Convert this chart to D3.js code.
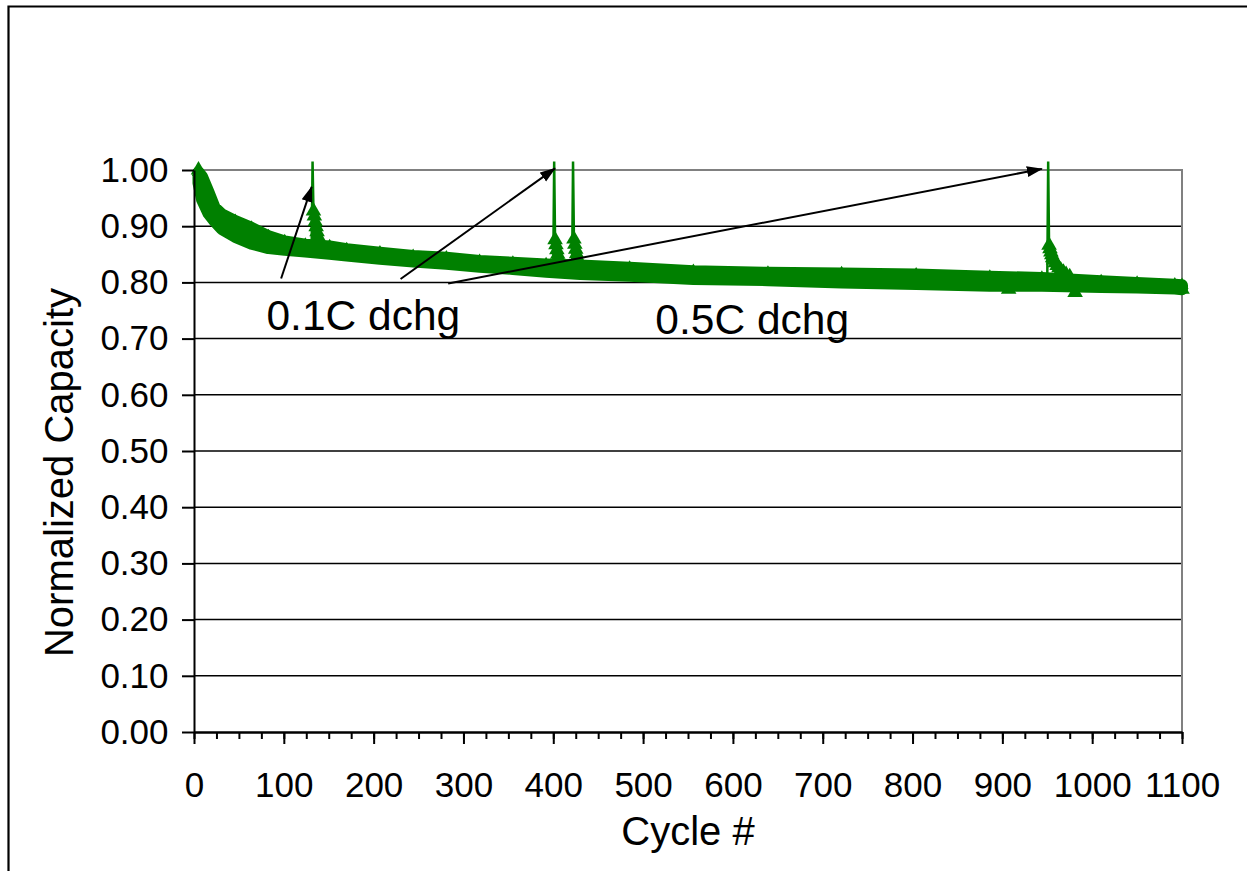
<!DOCTYPE html>
<html>
<head>
<meta charset="utf-8">
<script src="https://cdnjs.cloudflare.com/ajax/libs/d3/7.8.5/d3.min.js"></script>
<style>
  body { margin: 0; background: #ffffff; }
  svg { display: block; font-family: 'Liberation Sans', Arial, sans-serif; }
</style>
</head>
<body>
<svg id="canvas"></svg>
<script>
////////////////////////////////////////////////////////////////////////////////
// Data.
////////////////////////////////////////////////////////////////////////////////

// Cycles where the band of capacity points was read.
var bandCycles = [5, 9, 16, 23, 31, 46, 64, 83, 101, 124, 151, 170, 207, 244,
                  281, 318, 355, 392, 430, 485, 556, 639, 721, 804, 886, 944,
                  1010, 1050, 1092, 1100];

// Upper edge of the point cloud (normalized capacity).
var bandHigh = [0.996, 0.988, 0.961, 0.933, 0.921, 0.909, 0.897, 0.882, 0.873,
                0.867, 0.864, 0.859, 0.853, 0.847, 0.844, 0.838, 0.835, 0.832,
                0.830, 0.826, 0.820, 0.817, 0.816, 0.814, 0.810, 0.808, 0.802,
                0.799, 0.796, 0.795];

// Lower edge of the point cloud (normalized capacity).
var bandLow = [0.977, 0.947, 0.923, 0.909, 0.895, 0.881, 0.869, 0.861, 0.858,
               0.855, 0.851, 0.848, 0.842, 0.837, 0.833, 0.828, 0.824, 0.819,
               0.815, 0.812, 0.806, 0.804, 0.800, 0.797, 0.794, 0.794, 0.792,
               0.791, 0.789, 0.788];

// 0.1C discharge check-ups: spike cycle, spike peak and value just before it.
var spikeCycles = [132, 401, 422, 951];
var spikePeaks = [1.015, 1.015, 1.015, 1.015];
var spikeFeet = [0.866, 0.832, 0.831, 0.808];

// Recovered points right after each check-up.
var recoveryCycles = [
  [133, 134, 135, 136, 137, 138, 139, 141],
  [402, 403, 404, 405, 406, 408],
  [423, 424, 425, 426, 427, 429],
  [952, 953, 954, 955, 956, 957, 959, 961, 963, 965, 968, 971, 975]
];
var recoveryValues = [
  [0.927, 0.918, 0.908, 0.899, 0.890, 0.882, 0.876, 0.870],
  [0.876, 0.867, 0.858, 0.850, 0.843, 0.835],
  [0.877, 0.868, 0.859, 0.851, 0.844, 0.835],
  [0.866, 0.860, 0.854, 0.849, 0.844, 0.840, 0.835, 0.830, 0.826, 0.822, 0.818, 0.814, 0.810]
];

// Single points standing out of the band.
var outlierCycles = [5, 907, 981, 1100];
var outlierValues = [1.0, 0.788, 0.782, 0.788];

// Tick labels.
var xTickLabels = [0, 100, 200, 300, 400, 500, 600, 700, 800, 900, 1000, 1100];
var yTickLabels = [0.0, 0.1, 0.2, 0.3, 0.4, 0.5, 0.6, 0.7, 0.8, 0.9, 1.0];

// Annotation texts and arrows (in cycle / capacity units).
var noteTexts = ['0.1C dchg', '0.5C dchg'];
var noteCycles = [80.7, 513.6];
var noteValues = [0.715, 0.708];
var arrowStarts = [[97, 0.807], [230, 0.806], [283, 0.798]];
var arrowEnds = [[131, 0.970], [402, 1.003], [944, 1.002]];

////////////////////////////////////////////////////////////////////////////////
// Layout.
////////////////////////////////////////////////////////////////////////////////
var canvas = { width: 1247, height: 871 };

var plot = { left: 194, right: 1182, top: 170, bottom: 732 };

var colour = {
  series: '#008000',
  grid: '#000000',
  border: '#808080'
};

var svg = d3.select('#canvas')
            .attr('width', canvas.width)
            .attr('height', canvas.height);

// Outer frame (only left and top edges are visible).
svg.append('path')
   .attr('d', 'M8.5,' + canvas.height + 'V6.5H' + canvas.width)
   .attr('fill', 'none')
   .attr('stroke', '#000')
   .attr('stroke-width', 2.2);

// Scales.
var xScale = d3.scaleLinear().domain([0, 1100]).range([plot.left, plot.right]);
var yScale = d3.scaleLinear().domain([0, 1]).range([plot.bottom, plot.top]);

// Horizontal grid lines.
svg.append('g')
   .selectAll('line')
   .data(yTickLabels.filter(function(v) { return v > 0 && v < 1; }))
   .enter()
   .append('line')
   .attr('x1', plot.left)
   .attr('x2', plot.right)
   .attr('y1', function(d) { return yScale(d); })
   .attr('y2', function(d) { return yScale(d); })
   .attr('stroke', colour.grid)
   .attr('stroke-width', 1.5);

// Plot area border, top and right.
svg.append('path')
   .attr('d', 'M' + plot.left + ',' + plot.top + 'H' + plot.right + 'V' + plot.bottom)
   .attr('fill', 'none')
   .attr('stroke', colour.border)
   .attr('stroke-width', 2);

////////////////////////////////////////////////////////////////////////////////
// Series.
////////////////////////////////////////////////////////////////////////////////
var bandData = bandCycles.map(function(c, i) {
  return { c: c, hi: bandHigh[i], lo: bandLow[i] };
});

var band = d3.area()
             .x(function(d) { return xScale(d.c); })
             .y0(function(d) { return yScale(d.lo); })
             .y1(function(d) { return yScale(d.hi); });

svg.append('path')
   .datum(bandData)
   .attr('d', band)
   .attr('fill', colour.series)
   .attr('stroke', colour.series)
   .attr('stroke-width', 12)
   .attr('stroke-linejoin', 'round');

var smallTriangle = d3.symbol().type(d3.symbolTriangle).size(75);
var triangle = d3.symbol().type(d3.symbolTriangle).size(105);

// Markers along the upper edge give it the ragged look.
svg.append('g')
   .selectAll('path')
   .data(bandData)
   .enter()
   .append('path')
   .attr('d', smallTriangle)
   .attr('transform', function(d) { return 'translate(' + xScale(d.c) + ',' + yScale(d.hi) + ')'; })
   .attr('fill', colour.series);

var line = d3.line()
             .x(function(d) { return xScale(d[0]); })
             .y(function(d) { return yScale(d[1]); });

// Spikes and recovery points.
spikeCycles.forEach(function(c, i) {
  var pts = [[c - 1, spikeFeet[i]], [c, spikePeaks[i]]];
  recoveryCycles[i].forEach(function(rc, j) {
    pts.push([rc, recoveryValues[i][j]]);
  });

  svg.append('path')
     .datum(pts)
     .attr('d', line)
     .attr('fill', 'none')
     .attr('stroke', colour.series)
     .attr('stroke-width', 2.5);

  svg.append('g')
     .selectAll('path')
     .data(pts.slice(2))
     .enter()
     .append('path')
     .attr('d', triangle)
     .attr('transform', function(d) { return 'translate(' + xScale(d[0]) + ',' + yScale(d[1]) + ')'; })
     .attr('fill', colour.series);
});

// Stand-alone points.
svg.append('g')
   .selectAll('path')
   .data(outlierCycles)
   .enter()
   .append('path')
   .attr('d', triangle)
   .attr('transform', function(d, i) { return 'translate(' + xScale(d) + ',' + yScale(outlierValues[i]) + ')'; })
   .attr('fill', colour.series);

////////////////////////////////////////////////////////////////////////////////
// Axes.
////////////////////////////////////////////////////////////////////////////////
function styleAxis(g, size) {
  g.attr('font-family', null).attr('font-size', null);
  g.selectAll('path, line').attr('stroke', '#000').attr('stroke-width', 2);
  g.selectAll('text').style('font-size', size + 'px').attr('fill', '#000');
}

// Minor ticks every 25 cycles.
svg.append('g')
   .attr('transform', 'translate(0,' + plot.bottom + ')')
   .call(d3.axisBottom(xScale)
           .tickValues(d3.range(0, 1101, 25))
           .tickSize(7)
           .tickSizeOuter(0)
           .tickFormat(''))
   .call(styleAxis, 35);

// Major ticks with labels.
svg.append('g')
   .attr('transform', 'translate(0,' + plot.bottom + ')')
   .call(d3.axisBottom(xScale)
           .tickValues(xTickLabels)
           .tickSize(12)
           .tickSizeOuter(0)
           .tickPadding(28)
           .tickFormat(d3.format('d')))
   .call(styleAxis, 35);

svg.append('g')
   .attr('transform', 'translate(' + plot.left + ',0)')
   .call(d3.axisLeft(yScale)
           .tickValues(yTickLabels)
           .tickSize(12)
           .tickSizeOuter(0)
           .tickPadding(13.5)
           .tickFormat(d3.format('.2f')))
   .call(styleAxis, 35);

// Axis titles.
svg.append('text')
   .attr('x', (plot.left + plot.right) / 2)
   .attr('y', 845)
   .attr('text-anchor', 'middle')
   .style('font-size', '40px')
   .text('Cycle #');

svg.append('text')
   .attr('transform', 'translate(73,472.5) rotate(-90)')
   .attr('text-anchor', 'middle')
   .style('font-size', '40px')
   .text('Normalized Capacity');

////////////////////////////////////////////////////////////////////////////////
// Annotations.
////////////////////////////////////////////////////////////////////////////////
svg.append('defs')
   .append('marker')
   .attr('id', 'arrowhead')
   .attr('markerUnits', 'userSpaceOnUse')
   .attr('markerWidth', 16)
   .attr('markerHeight', 12)
   .attr('refX', 15)
   .attr('refY', 6)
   .attr('orient', 'auto')
   .append('path')
   .attr('d', 'M0,0.5L16,6L0,11.5Z')
   .attr('fill', '#000');

svg.append('g')
   .selectAll('line')
   .data(arrowStarts)
   .enter()
   .append('line')
   .attr('x1', function(d) { return xScale(d[0]); })
   .attr('y1', function(d) { return yScale(d[1]); })
   .attr('x2', function(d, i) { return xScale(arrowEnds[i][0]); })
   .attr('y2', function(d, i) { return yScale(arrowEnds[i][1]); })
   .attr('stroke', '#000')
   .attr('stroke-width', 2)
   .attr('marker-end', 'url(#arrowhead)');

svg.append('g')
   .selectAll('text')
   .data(noteTexts)
   .enter()
   .append('text')
   .attr('x', function(d, i) { return xScale(noteCycles[i]); })
   .attr('y', function(d, i) { return yScale(noteValues[i]); })
   .style('font-size', '42.5px')
   .text(function(d) { return d; });
</script>
</body>
</html>
